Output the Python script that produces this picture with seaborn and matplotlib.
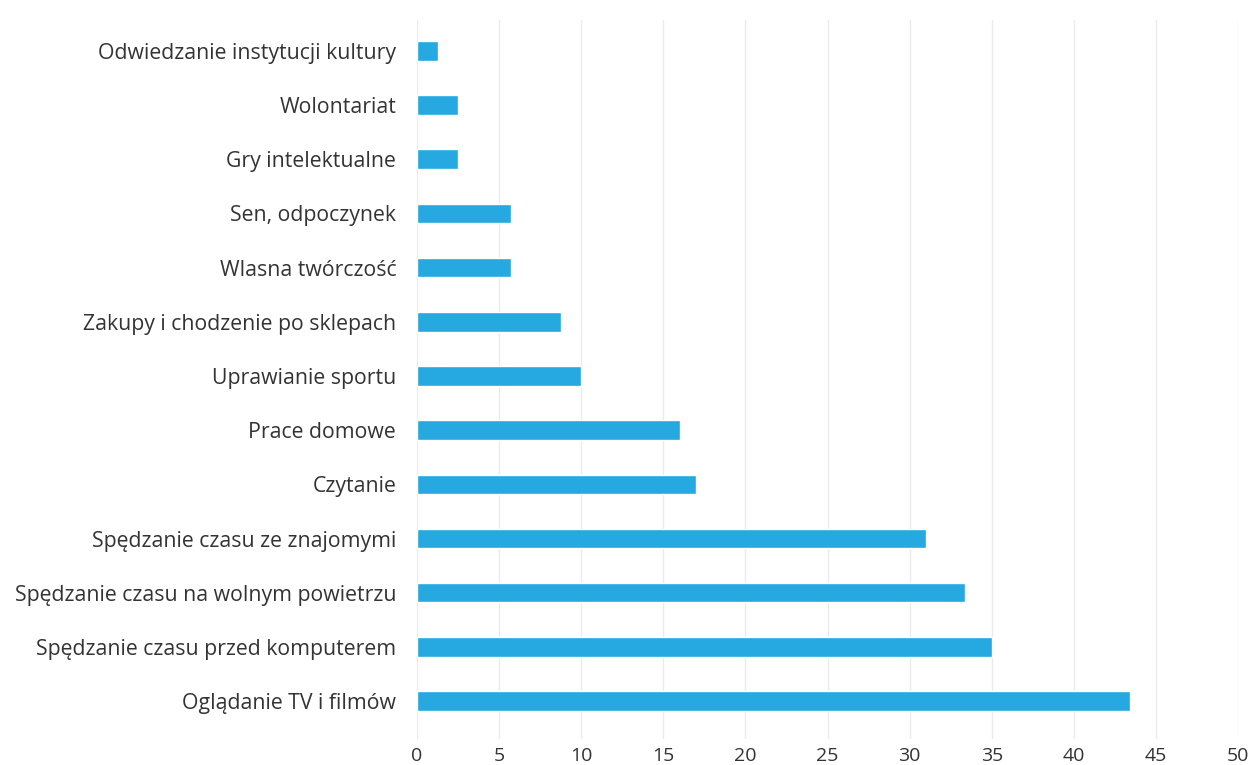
import pandas as pd
import matplotlib.pyplot as plt
import seaborn as sns

### data
activities = [
    "Odwiedzanie instytucji kultury",
    "Wolontariat",
    "Gry intelektualne",
    "Sen, odpoczynek",
    "Wlasna twórczość",
    "Zakupy i chodzenie po sklepach",
    "Uprawianie sportu",
    "Prace domowe",
    "Czytanie",
    "Spędzanie czasu ze znajomymi",
    "Spędzanie czasu na wolnym powietrzu",
    "Spędzanie czasu przed komputerem",
    "Oglądanie TV i filmów",
]
percent = [1.3, 2.5, 2.5, 5.75, 5.75, 8.8, 10.0, 16.0, 17.0, 31.0, 33.4, 35.0, 43.4]
x_ticks = [0, 5, 10, 15, 20, 25, 30, 35, 40, 45, 50]

df = pd.DataFrame({"activity": activities, "percent": percent})

sns.set_style("white")
plt.rcParams["font.family"] = ["Open Sans", "DejaVu Sans"]

fig = plt.figure(figsize=(12.51, 7.65), dpi=100)
# axes box in pixels: left 417, right 1238, top 20, bottom 739
ax = fig.add_axes([417 / 1251, 1 - 739 / 765, (1238 - 417) / 1251, (739 - 20) / 765])

sns.barplot(data=df, x="percent", y="activity", orient="h", color="#25a9e0",
            saturation=1, width=0.36, ax=ax, zorder=3)

ax.set_xlim(0, 50)
ax.set_ylim(12.70, -0.57)
ax.set_xticks(x_ticks)
ax.set_xticklabels([str(t) for t in x_ticks])
ax.xaxis.grid(True, color="#ebebeb", linewidth=1.0, zorder=0)
ax.set_axisbelow(True)
ax.set_xlabel("")
ax.set_ylabel("")
for s in ax.spines.values():
    s.set_visible(False)
ax.tick_params(axis="x", length=0, pad=6, labelsize=14, labelcolor="#333333")
ax.tick_params(axis="y", length=0, pad=15, labelsize=15.3, labelcolor="#333333")

fig.savefig("out.png", dpi=100)
plt.close()
